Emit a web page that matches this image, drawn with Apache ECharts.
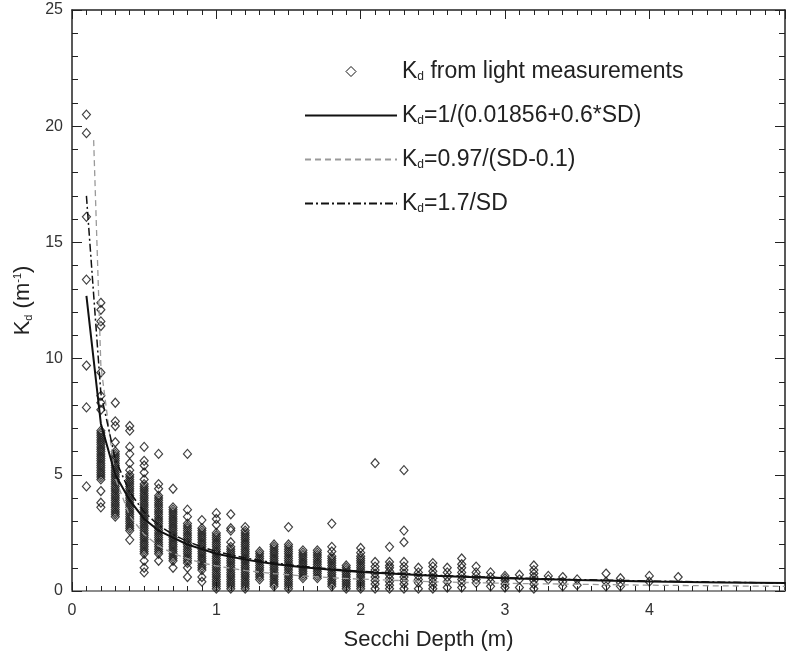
<!DOCTYPE html>
<html>
<head>
<meta charset="utf-8">
<script src="https://cdn.jsdelivr.net/npm/echarts@6/dist/echarts.min.js"></script>
<style>
  html, body { margin: 0; padding: 0; background: #fff; }
  #chart { width: 786px; height: 656px; }
</style>
</head>
<body>
<div id="chart"></div>
<script>
// Secchi depth of each column of measurements (m)
var sdColumns = [0.1, 0.2, 0.3, 0.4, 0.5, 0.6, 0.7, 0.8, 0.9, 1.0,
  1.1, 1.2, 1.3, 1.4, 1.5, 1.6, 1.7, 1.8, 1.9, 2.0,
  2.1, 2.2, 2.3, 2.4, 2.5, 2.6, 2.7, 2.8, 2.9, 3.0,
  3.1, 3.2, 3.3, 3.4, 3.5, 3.7, 3.8, 4.0, 4.2]
// Kd from light measurements, one list per column (1/m)
var kdColumns = [
  [20.5, 19.7, 16.1, 13.4, 9.7, 7.9, 4.5],
  [12.4, 12.1, 11.6, 11.4, 9.4, 8.4, 8.1, 7.8, 6.9, 6.8, 6.7, 6.6, 6.5, 6.4, 6.3, 6.2, 6.1, 6.0, 5.9, 5.8, 5.7, 5.6, 5.5, 5.4, 5.3, 5.2, 5.1, 5.0, 4.9, 4.8, 4.3, 3.8, 3.6],
  [8.1, 7.3, 7.1, 6.4, 6.0, 5.9, 5.8, 5.7, 5.6, 5.5, 5.4, 5.3, 5.2, 5.1, 5.0, 4.9, 4.8, 4.7, 4.6, 4.5, 4.4, 4.3, 4.2, 4.1, 4.0, 3.9, 3.8, 3.7, 3.6, 3.5, 3.4, 3.3, 3.2],
  [7.1, 6.9, 6.2, 5.9, 5.5, 5.2, 5.0, 4.9, 4.8, 4.7, 4.6, 4.5, 4.4, 4.3, 4.2, 4.1, 4.0, 3.9, 3.8, 3.7, 3.6, 3.5, 3.4, 3.3, 3.2, 3.1, 3.0, 2.9, 2.8, 2.7, 2.6, 2.2],
  [6.2, 5.6, 5.4, 5.1, 4.8, 4.6, 4.5, 4.4, 4.3, 4.2, 4.1, 4.0, 3.9, 3.8, 3.7, 3.6, 3.5, 3.4, 3.3, 3.2, 3.1, 3.0, 2.9, 2.8, 2.7, 2.6, 2.5, 2.4, 2.3, 2.2, 2.1, 2.0, 1.9, 1.8, 1.7, 1.6, 1.3, 1.0, 0.8],
  [5.9, 4.6, 4.4, 4.1, 4.0, 3.9, 3.8, 3.7, 3.6, 3.5, 3.4, 3.3, 3.2, 3.1, 3.0, 2.9, 2.8, 2.7, 2.6, 2.5, 2.4, 2.3, 2.2, 2.1, 2.0, 1.9, 1.8, 1.7, 1.6, 1.3],
  [4.4, 3.6, 3.5, 3.4, 3.3, 3.2, 3.1, 3.0, 2.9, 2.8, 2.7, 2.6, 2.5, 2.4, 2.3, 2.2, 2.1, 2.0, 1.9, 1.8, 1.7, 1.6, 1.5, 1.4, 1.3, 1.0],
  [5.9, 3.5, 3.2, 2.9, 2.8, 2.7, 2.6, 2.5, 2.4, 2.3, 2.2, 2.1, 2.0, 1.9, 1.8, 1.7, 1.6, 1.5, 1.4, 1.3, 1.2, 1.0, 0.6],
  [3.05, 2.7, 2.6, 2.5, 2.4, 2.3, 2.2, 2.1, 2.0, 1.9, 1.8, 1.7, 1.6, 1.5, 1.4, 1.3, 1.2, 1.1, 1.0, 0.9, 0.6, 0.4],
  [3.35, 3.1, 2.85, 2.5, 2.4, 2.3, 2.2, 2.1, 2.0, 1.9, 1.8, 1.7, 1.6, 1.5, 1.4, 1.3, 1.2, 1.1, 1.0, 0.9, 0.8, 0.7, 0.6, 0.5, 0.4, 0.3, 0.2, 0.1],
  [3.3, 2.7, 2.6, 2.1, 1.9, 1.8, 1.7, 1.6, 1.5, 1.4, 1.3, 1.2, 1.1, 1.0, 0.9, 0.8, 0.7, 0.6, 0.5, 0.4, 0.3, 0.2, 0.1],
  [2.75, 2.6, 2.5, 2.4, 2.3, 2.2, 2.1, 2.0, 1.9, 1.8, 1.7, 1.6, 1.5, 1.4, 1.3, 1.2, 1.1, 1.0, 0.9, 0.8, 0.7, 0.6, 0.5, 0.4, 0.3, 0.2, 0.1],
  [1.7, 1.6, 1.5, 1.4, 1.3, 1.2, 1.1, 1.0, 0.9, 0.8, 0.7, 0.6, 0.5],
  [2.0, 1.9, 1.8, 1.7, 1.6, 1.5, 1.4, 1.3, 1.2, 1.1, 1.0, 0.9, 0.8, 0.7, 0.6, 0.5, 0.4, 0.3, 0.2],
  [2.75, 2.0, 1.9, 1.8, 1.7, 1.6, 1.5, 1.4, 1.3, 1.2, 1.1, 1.0, 0.9, 0.8, 0.7, 0.6, 0.5, 0.4, 0.3, 0.2, 0.1],
  [1.75, 1.65, 1.55, 1.45, 1.35, 1.25, 1.15, 1.05, 0.95, 0.85, 0.75, 0.65, 0.55],
  [1.75, 1.65, 1.55, 1.45, 1.35, 1.25, 1.15, 1.05, 0.95, 0.85, 0.75, 0.65, 0.55],
  [2.9, 1.9, 1.7, 1.5, 1.4, 1.3, 1.2, 1.1, 1.0, 0.9, 0.8, 0.7, 0.6, 0.5, 0.4, 0.3, 0.2],
  [1.1, 1.0, 0.9, 0.8, 0.7, 0.6, 0.5, 0.4, 0.3, 0.2, 0.1],
  [1.85, 1.65, 1.5, 1.4, 1.3, 1.2, 1.1, 1.0, 0.9, 0.8, 0.7, 0.6, 0.5, 0.4, 0.3, 0.2, 0.1],
  [5.5, 1.25, 1.05, 0.9, 0.75, 0.6, 0.45, 0.3, 0.1],
  [1.9, 1.25, 1.1, 1.0, 0.85, 0.7, 0.55, 0.4, 0.25, 0.1],
  [5.2, 2.6, 2.1, 1.25, 1.05, 0.9, 0.75, 0.6, 0.45, 0.3, 0.1],
  [1.0, 0.8, 0.65, 0.5, 0.35, 0.1],
  [1.2, 1.05, 0.85, 0.7, 0.55, 0.4, 0.25, 0.1],
  [1.0, 0.8, 0.6, 0.4, 0.15],
  [1.4, 1.15, 1.0, 0.8, 0.65, 0.5, 0.35, 0.15],
  [1.05, 0.8, 0.65, 0.5, 0.35],
  [0.8, 0.6, 0.4, 0.2],
  [0.65, 0.55, 0.45, 0.3, 0.15],
  [0.7, 0.5, 0.15],
  [1.1, 0.9, 0.75, 0.6, 0.45, 0.3, 0.1],
  [0.65, 0.5],
  [0.6, 0.4, 0.2],
  [0.5, 0.25],
  [0.75, 0.4, 0.2],
  [0.55, 0.35, 0.2],
  [0.65, 0.4],
  [0.6]
]

// curves
var fitSD = [0.1, 0.2, 0.3, 0.4, 0.5, 0.6, 0.7, 0.8, 0.9, 1.0, 1.2, 1.4, 1.6, 1.8, 2.0, 2.5, 3.0, 3.5, 4.0, 4.5, 4.94]
var fitKd = [12.7, 7.2, 5.0, 3.9, 3.1, 2.6, 2.3, 2.0, 1.8, 1.6, 1.35, 1.16, 1.02, 0.91, 0.82, 0.66, 0.55, 0.47, 0.41, 0.37, 0.34]
var empSD = [0.15, 0.2, 0.3, 0.4, 0.5, 0.6, 0.7, 0.8, 0.9, 1.0, 1.2, 1.4, 1.6, 1.8, 2.0, 2.5, 3.0, 3.5, 4.0, 4.5, 4.94]
var empKd = [19.4, 9.7, 4.85, 3.23, 2.43, 1.94, 1.62, 1.39, 1.21, 1.08, 0.88, 0.75, 0.65, 0.57, 0.51, 0.40, 0.33, 0.29, 0.25, 0.22, 0.20]
var simpleSD = [0.1, 0.2, 0.3, 0.4, 0.5, 0.6, 0.7, 0.8, 0.9, 1.0, 1.2, 1.4, 1.6, 1.8, 2.0, 2.5, 3.0, 3.5, 4.0, 4.5, 4.94]
var simpleKd = [17.0, 8.5, 5.67, 4.25, 3.4, 2.83, 2.43, 2.13, 1.89, 1.7, 1.42, 1.21, 1.06, 0.94, 0.85, 0.68, 0.57, 0.49, 0.43, 0.38, 0.34]

var xTicks = [0, 1, 2, 3, 4]
var yTicks = [0, 5, 10, 15, 20, 25]
var names = ['Kd from light measurements', 'Kd=1/(0.01856+0.6*SD)', 'Kd=0.97/(SD-0.1)', 'Kd=1.7/SD']

var font = 'Liberation Sans'

function zip (xs, ys) {
  return xs.map(function (x, i) { return [x, ys[i]] })
}

var measured = []
sdColumns.forEach(function (sd, i) {
  kdColumns[i].forEach(function (kd) { measured.push([sd, kd]) })
})

function xAxisOf (pos) {
  return {
    type: 'value',
    position: pos,
    min: xTicks[0],
    max: 4.94,
    interval: xTicks[1] - xTicks[0],
    axisLine: { onZero: false, lineStyle: { color: pos === 'bottom' ? '#8c8c8c' : '#222', width: pos === 'bottom' ? 2 : 1.5 } },
    axisTick: { inside: true, length: 9, lineStyle: { color: '#222' } },
    minorTick: { show: true, splitNumber: 10, length: 5, lineStyle: { color: '#222' } },
    axisLabel: { show: pos === 'bottom', showMaxLabel: false, margin: 12, fontSize: 16, color: '#333', fontFamily: font },
    splitLine: { show: false }
  }
}

function yAxisOf (pos) {
  return {
    type: 'value',
    position: pos,
    min: yTicks[0],
    max: yTicks[yTicks.length - 1],
    interval: yTicks[1] - yTicks[0],
    axisLine: { onZero: false, lineStyle: { color: '#222', width: 1.5 } },
    axisTick: { inside: true, length: 10, lineStyle: { color: '#222' } },
    minorTick: { show: true, splitNumber: 5, length: 6, lineStyle: { color: '#222' } },
    axisLabel: { show: pos === 'left', margin: 9, fontSize: 16, color: '#333', fontFamily: font },
    splitLine: { show: false }
  }
}

var xBottom = xAxisOf('bottom')
xBottom.name = 'Secchi Depth (m)'
xBottom.nameLocation = 'middle'
xBottom.nameGap = 38
xBottom.nameTextStyle = { fontSize: 22, color: '#222', fontFamily: font }

var yLeft = yAxisOf('left')
yLeft.name = '{k|K}{s|d}{t| (m}{p|-1}{t|)}'
yLeft.nameLocation = 'middle'
yLeft.nameGap = 32
yLeft.nameTextStyle = {
  color: '#222',
  fontFamily: font,
  fontSize: 22,
  rich: {
    k: { fontSize: 22 },
    t: { fontSize: 22 },
    s: { fontSize: 11, padding: [11, 0, 0, 0] },
    p: { fontSize: 11, padding: [0, 0, 11, 0] }
  }
}

var chart = echarts.init(document.getElementById('chart'))
chart.setOption({
  animation: false,
  backgroundColor: '#fff',
  grid: { left: 72, right: 1, top: 10, bottom: 65 },
  xAxis: [xBottom, xAxisOf('top')],
  yAxis: [yLeft, yAxisOf('right')],
  legend: {
    orient: 'vertical',
    left: 299,
    top: 55,
    itemWidth: 92,
    itemHeight: 10,
    itemGap: 21,
    itemStyle: { opacity: 0 },
    data: [
      { name: names[0], icon: 'path://M5,0L10,5L5,10L0,5Z', itemStyle: { opacity: 1, color: 'rgba(0,0,0,0)', borderColor: '#111', borderWidth: 1 } },
      names[1], names[2], names[3]
    ],
    formatter: function (n) { return '{k|K}{s|d}{t|' + n.slice(2) + '}' },
    textStyle: {
      color: '#222',
      fontFamily: font,
      fontSize: 23,
      rich: {
        k: { fontSize: 23 },
        t: { fontSize: 23 },
        s: { fontSize: 12, padding: [11, 0, 0, 0] }
      }
    }
  },
  series: [{
    name: names[0],
    type: 'scatter',
    symbol: 'diamond',
    symbolSize: [8, 9],
    itemStyle: { color: 'rgba(0,0,0,0)', borderColor: '#111', borderWidth: 1.2 },
    emphasis: { disabled: true },
    z: 2,
    data: measured
  }, {
    name: names[1],
    type: 'line',
    symbol: 'none',
    itemStyle: { color: '#111' },
    lineStyle: { color: '#111', width: 2 },
    emphasis: { disabled: true },
    z: 4,
    data: zip(fitSD, fitKd)
  }, {
    name: names[2],
    type: 'line',
    symbol: 'none',
    itemStyle: { color: '#9a9a9a' },
    lineStyle: { color: '#9a9a9a', width: 1.3, type: [6, 4] },
    emphasis: { disabled: true },
    z: 3,
    data: zip(empSD, empKd)
  }, {
    name: names[3],
    type: 'line',
    symbol: 'none',
    itemStyle: { color: '#111' },
    lineStyle: { color: '#111', width: 1.5, type: [8, 3, 2, 3] },
    emphasis: { disabled: true },
    z: 3,
    data: zip(simpleSD, simpleKd)
  }]
})
</script>
</body>
</html>
